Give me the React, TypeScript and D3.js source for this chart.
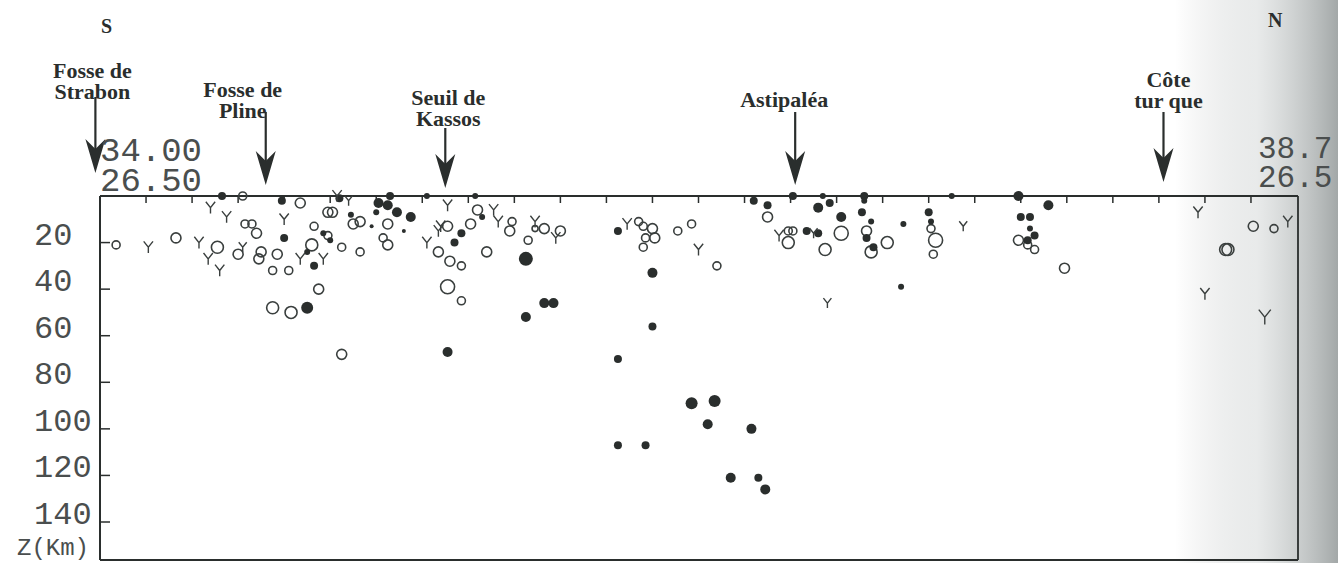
import React from "react";
import * as d3 from "d3";

// ---- data (distance along profile km, depth km, magnitude) ----
const depthTicks = [20, 40, 60, 80, 100, 120, 140];
const distTicks = d3.range(20, 520, 20);
const startCoord = ["34.00", "26.50"];
const endCoord = ["38.7", "26.5"];

const features: { lines: string[]; dist: number }[] = [
  { lines: ["Fosse de", "Strabon"], dist: -2 },
  { lines: ["Fosse de", "Pline"], dist: 72 },
  { lines: ["Seuil de", "Kassos"], dist: 150 },
  { lines: ["Astipaléa"], dist: 302 },
  { lines: ["Côte", "tur que"], dist: 462 },
];

const openEvents: [number, number, number][] = [
  [62, 0, 3.5], [87, 3, 4], [99, 7, 4], [101, 7, 4], [110, 12, 4], [113, 11, 4],
  [125, 12, 4], [123, 18, 3.5], [125, 21, 4], [93, 13, 3.5], [99, 17, 3.5], [105, 22, 3.5],
  [113, 24, 3.5], [63, 12, 3.5], [66, 12, 3.5], [68, 16, 4], [33, 18, 4], [7, 21, 3.5],
  [51, 22, 4.5], [60, 25, 4], [70, 24, 4], [69, 27, 4], [77, 25, 4], [75, 32, 3.5],
  [82, 32, 3.5], [92, 21, 4.5], [95, 40, 4], [75, 48, 4.5], [83, 50, 4.5], [147, 24, 4],
  [152, 28, 4], [157, 30, 3.5], [151, 39, 5], [157, 45, 3.5], [151, 13, 4], [161, 12, 4],
  [164, 6, 4], [168, 24, 4], [179, 11, 3.5], [178, 15, 4], [186, 19, 3.5], [189, 14, 3],
  [193, 14, 4], [200, 15, 4], [234, 11, 3.5], [236, 13, 3.5], [240, 14, 4], [237, 18, 3.5],
  [241, 18, 4], [236, 22, 3.5], [251, 15, 3.5], [257, 12, 3.5], [268, 30, 3.5], [290, 9, 4],
  [299, 15, 3.5], [301, 15, 3.5], [299, 20, 4.5], [322, 16, 5], [315, 23, 4.5], [333, 15, 4],
  [335, 24, 4.5], [342, 20, 4.5], [361, 14, 3.5], [363, 19, 5], [362, 25, 3.5], [399, 19, 4],
  [403, 21, 3.5], [406, 23, 3.5], [419, 31, 4], [501, 13, 4], [510, 14, 3.5], [489, 23, 4.5],
  [490, 23, 4.5], [105, 68, 4],
];

const filledEvents: [number, number, number][] = [
  [53, 0, 3.5], [79, 2, 3.5], [104, 1, 3.5], [109, 8, 3], [121, 3, 4], [125, 4, 4],
  [120, 7, 3], [126, 0, 3.5], [129, 7, 4], [135, 9, 4], [142, 0, 3], [118, 13, 2.5],
  [132, 15, 2.5], [97, 16, 3], [100, 19, 3], [80, 18, 3.5], [90, 24, 3], [93, 30, 3.5],
  [90, 48, 4.5], [163, 0, 3], [157, 16, 3.5], [154, 20, 3.5], [166, 9, 3], [185, 27, 5],
  [193, 46, 4], [197, 46, 4], [185, 52, 4], [151, 67, 4], [225, 15, 3.5], [240, 33, 4],
  [240, 56, 3.5], [225, 70, 3.5], [257, 89, 4.5], [267, 88, 4.5], [264, 98, 4], [283, 100, 4],
  [225, 107, 3.5], [237, 107, 3.5], [274, 121, 4], [286, 121, 3.5], [289, 126, 4], [284, 2, 3.5],
  [290, 4, 3.5], [301, 0, 3.5], [314, 0, 3], [312, 5, 4], [317, 3, 3.5], [322, 9, 4],
  [307, 15, 3.5], [312, 16, 3.5], [332, 0, 3.5], [332, 2, 3], [331, 7, 3.5], [335, 11, 3],
  [333, 18, 3.5], [336, 22, 3.5], [349, 12, 3], [348, 39, 3], [370, 0, 3], [360, 7, 3.5],
  [361, 11, 3], [399, 0, 4], [400, 9, 3.5], [404, 9, 3.5], [404, 14, 3], [406, 17, 3.5],
  [403, 19, 3.5], [412, 4, 4],
];

const yEvents: [number, number, number][] = [
  [48, 5, 3.5], [55, 9, 3.5], [80, 10, 3.5], [103, 0, 3.5], [108, 2, 3], [21, 22, 3.5],
  [43, 20, 3.5], [47, 27, 3.5], [52, 32, 3.5], [62, 22, 3], [87, 27, 3.5], [97, 27, 3.5],
  [142, 20, 3.5], [151, 4, 3.5], [148, 13, 3.5], [147, 15, 3.5], [171, 6, 3.5], [173, 11, 3.5],
  [189, 11, 3.5], [198, 18, 3.5], [229, 12, 3.5], [260, 23, 3.5], [295, 17, 3.5], [310, 16, 3],
  [316, 46, 3], [375, 13, 3], [477, 7, 3.5], [516, 11, 3.5], [480, 42, 3.5], [506, 52, 4.5],
];

// ---- layout (presentation only) ----
const W = 1338;
const H = 563;
const left = 100;
const right = 1298;
const top = 196;
const bottom = 560;
const ink = "#2a2e2d";
const plot = "#4a4e4e";

const featureLayout = [
  { dx: -3, base: 78, shaftTop: 97, tip: 173 },
  { dx: -23, base: 97, shaftTop: 112, tip: 185 },
  { dx: 3, base: 105, shaftTop: 128, tip: 188 },
  { dx: -11, base: 107, shaftTop: 112, tip: 185 },
  { dx: 5, base: 87, shaftTop: 112, tip: 182 },
];

export default function App() {
  const x = d3.scaleLinear().domain([0, 520]).range([left, 1297]);
  const y = d3.scaleLinear().domain([0, 140]).range([top, 522]);
  const r = d3.scaleLinear().domain([3, 5]).range([3, 7]);
  const ySize = d3.scaleLinear().domain([3, 4.5]).range([10, 15]);

  const yPath = (cx: number, cy: number, s: number) => {
    const h = s / 2;
    const p = d3.path();
    p.moveTo(cx - h * 0.8, cy - h);
    p.lineTo(cx, cy);
    p.lineTo(cx + h * 0.8, cy - h);
    p.moveTo(cx, cy);
    p.lineTo(cx, cy + h);
    return p.toString();
  };

  const arrowHead = (cx: number, tip: number) => {
    const p = d3.path();
    p.moveTo(cx, tip);
    p.lineTo(cx - 10, tip - 34);
    p.lineTo(cx, tip - 24);
    p.lineTo(cx + 10, tip - 34);
    p.closePath();
    return p.toString();
  };

  const mono = "'Liberation Mono', 'DejaVu Sans Mono', monospace";
  const serif = "'Liberation Serif', 'DejaVu Serif', serif";

  return (
    <svg
      width={W}
      height={H}
      style={{ position: "absolute", left: 0, top: 0, background: "#fff" }}
    >
      <defs>
        <linearGradient id="scan" x1="0" x2="1" y1="0" y2="0">
          <stop offset="0" stopColor="#a7abab" stopOpacity={0} />
          <stop offset="0.5" stopColor="#cdd1d1" stopOpacity={0.45} />
          <stop offset="1" stopColor="#a3a8a8" stopOpacity={1} />
        </linearGradient>
      </defs>
      <rect x={0} y={0} width={W} height={H} fill="#fff" />
      <rect x={1175} y={0} width={W - 1175} height={H} fill="url(#scan)" />

      {/* S / N */}
      <text x={101} y={33} fontFamily={serif} fontWeight="bold" fontSize={20} fill={ink}>S</text>
      <text x={1268} y={27} fontFamily={serif} fontWeight="bold" fontSize={20} fill={ink}>N</text>

      {/* features */}
      {features.map((f, i) => {
        const L = featureLayout[i];
        const cx = x(f.dist);
        return (
          <g key={i}>
            {f.lines.map((ln, j) => (
              <text
                key={j}
                x={cx + L.dx}
                y={L.base + j * 21}
                textAnchor="middle"
                fontFamily={serif}
                fontWeight="bold"
                fontSize={22}
                fill={ink}
              >
                {ln}
              </text>
            ))}
            <line x1={cx} x2={cx} y1={L.shaftTop} y2={L.tip - 20} stroke={ink} strokeWidth={2.2} />
            <path d={arrowHead(cx, L.tip)} fill={ink} />
          </g>
        );
      })}

      {/* end coordinates */}
      <text x={left} y={161} fontFamily={mono} fontSize={34} fill={plot}>{startCoord[0]}</text>
      <text x={left} y={191} fontFamily={mono} fontSize={34} fill={plot}>{startCoord[1]}</text>
      <text x={1258} y={158} fontFamily={mono} fontSize={31} fill={plot}>{endCoord[0]}</text>
      <text x={1258} y={187} fontFamily={mono} fontSize={31} fill={plot}>{endCoord[1]}</text>

      {/* frame */}
      <line x1={left} x2={right} y1={top} y2={top} stroke={ink} strokeWidth={2} />
      <line x1={left} x2={left} y1={top} y2={bottom} stroke={ink} strokeWidth={2} />
      <line x1={right} x2={right} y1={top} y2={bottom} stroke={ink} strokeWidth={1.8} />
      <line x1={left} x2={right} y1={bottom} y2={bottom} stroke={ink} strokeWidth={2} />

      {distTicks.map((d) => (
        <line key={d} x1={x(d)} x2={x(d)} y1={top} y2={top + 7} stroke={ink} strokeWidth={1.5} />
      ))}
      {depthTicks.map((d) => (
        <g key={d}>
          <line x1={left} x2={left + 10} y1={y(d)} y2={y(d)} stroke={ink} strokeWidth={1.5} />
          <text x={34} y={y(d) + 2} fontFamily={mono} fontSize={32} fill={plot}>{d}</text>
        </g>
      ))}
      <text x={17} y={555} fontFamily={mono} fontSize={24} fill={plot}>Z(Km)</text>

      {/* events */}
      {openEvents.map(([d, z, m], i) => (
        <circle key={"o" + i} cx={x(d)} cy={y(z)} r={r(m)} fill="none" stroke="#3a3f3e" strokeWidth={1.6} />
      ))}
      {filledEvents.map(([d, z, m], i) => (
        <circle key={"f" + i} cx={x(d)} cy={y(z)} r={r(m)} fill={ink} />
      ))}
      {yEvents.map(([d, z, m], i) => (
        <path key={"y" + i} d={yPath(x(d), y(z), ySize(m))} fill="none" stroke="#3a3f3e" strokeWidth={1.4} />
      ))}
    </svg>
  );
}
